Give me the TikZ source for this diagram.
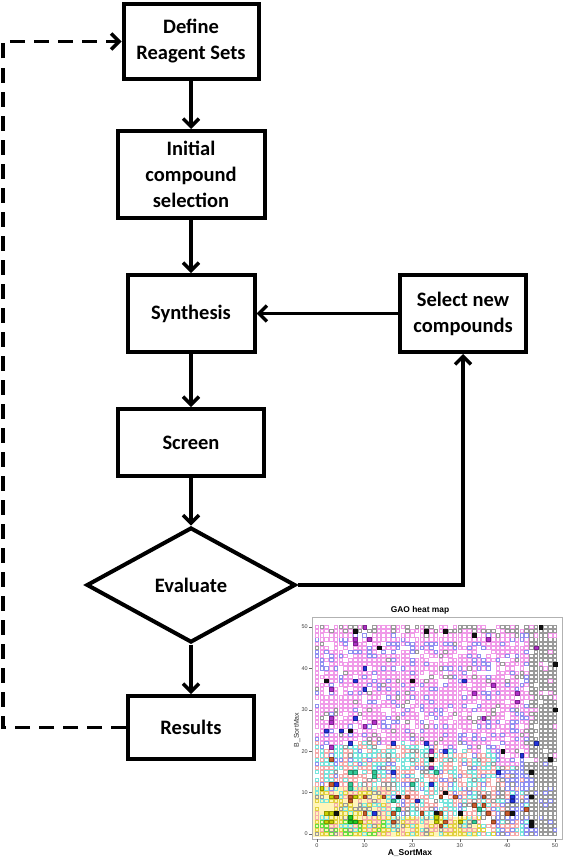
\documentclass[tikz,border=0pt]{standalone}
\usepackage{fontspec}
\newfontfamily\flowfont{Carlito}
\newfontfamily\plotfont{Liberation Sans}
\usetikzlibrary{arrows.meta,shapes.geometric}
\definecolor{hpink}{HTML}{F09AE8}
\definecolor{hlav}{HTML}{9090F0}
\definecolor{hgray}{HTML}{9A9A9A}
\definecolor{hcyan}{HTML}{78E4DC}
\definecolor{hsalmon}{HTML}{F4AAAA}
\definecolor{hyellow}{HTML}{E0D040}
\definecolor{hgreen}{HTML}{66DD44}
\definecolor{hybg}{HTML}{FFF5B8}
\definecolor{fblack}{HTML}{111111}
\definecolor{fblue}{HTML}{2233DD}
\definecolor{fmag}{HTML}{B030C8}
\definecolor{forange}{HTML}{CC5A2A}
\definecolor{fteal}{HTML}{33CC99}
\definecolor{fgreen}{HTML}{22CC22}
\definecolor{fyg}{HTML}{C8D200}
\begin{document}
\begin{tikzpicture}[x=1pt,y=-1pt,
  box/.style={draw=black, line width=4pt, fill=white, align=center, inner sep=0pt,
    font=\flowfont\bfseries\fontsize{20.5}{26}\selectfont},
  conn/.style={line width=3.5pt, -{Straight Barb[length=8pt,width=16pt]}},
  dconn/.style={conn, dash pattern=on 15pt off 9pt},
  ticklab/.style={font=\plotfont\fontsize{5.5}{6}\selectfont, text=black!75, inner sep=0pt},
  filledsq/.style={line width=0.4pt},
]
\useasboundingbox (0,0) rectangle (565,859);

% ---------- flowchart ----------
\node[box, minimum width=135pt, minimum height=75pt] (def) at (191,41.5) {Define\\Reagent Sets};
\node[box, minimum width=147pt, minimum height=87pt] (init) at (191,174.5) {Initial\\compound\\selection};
\node[box, minimum width=127pt, minimum height=77pt] (syn) at (191,313.5) {Synthesis};
\node[box, minimum width=146pt, minimum height=67pt] (scr) at (191,442.5) {Screen};
\node[box, diamond, aspect=1.9, minimum width=209pt, minimum height=115pt] (eval) at (191,585) {Evaluate};
\node[box, minimum width=126pt, minimum height=63pt] (res) at (191,727.5) {Results};
\node[box, minimum width=126pt, minimum height=77pt] (sel) at (463,313.5) {Select new\\compounds};
\coordinate (dl) at (3,727.5);

\draw[conn] (def) -- (init);
\draw[conn] (init) -- (syn);
\draw[conn] (syn) -- (scr);
\draw[conn] (scr) -- (eval);
\draw[conn] (eval) -- (res);
\draw[conn] (sel) -- (syn);
\draw[conn] (eval.east) -| (sel.south);
\draw[dconn] (res.west) -- (dl) |- (def.west);

% ---------- heat map ----------
\fill[hybg] (313,837) rectangle (390,786);
\fill[hybg] (390,837) rectangle (478,817);
\draw[black!30, line width=0.6pt] (312,617) rectangle (562,839);

\pgfmathsetseed{4242}
\foreach \i in {0,...,50}{
  \foreach \j in {0,...,50}{
    \pgfmathsetmacro\bd{(\i<27?22:(\i<38?20:17))+2*rnd-1}
    \pgfmathsetmacro\r{rnd}
    \pgfmathtruncatemacro\up{\j>=\bd}
    \ifnum\up=1
      \pgfmathtruncatemacro\code{\i>=45 ? (\r<0.85?3:(\r<0.95?1:0)) :
        (\j>=49 ? (\r<0.45?3:(\r<0.85?1:0)) :
        (\r<0.64?1:(\r<0.8?2:(\r<0.86?3:0))))}
    \else
      \pgfmathtruncatemacro\code{\i>=45 ? (\r<0.9?3:2) :
        (\i>=38 ? (\r<0.5?2:(\r<0.72?3:(\r<0.88?5:4))) :
        ((\j<11 && \i<15) ? (\r<0.3?6:(\r<0.52?5:(\r<0.64?3:(\r<0.78?4:(\j<4?7:0))))) :
        (\j<5 ? (\r<0.3?6:(\r<0.55?5:(\r<0.75?4:(\r<0.87?3:0)))) :
        (\r<0.42?5:(\r<0.74?4:(\r<0.85?2:(\r<0.93?3:0)))))))}
    \fi
    \ifnum\code>0
      \ifcase\code\or\def\cc{hpink}\or\def\cc{hlav}\or\def\cc{hgray}\or\def\cc{hcyan}\or\def\cc{hsalmon}\or\def\cc{hyellow}\or\def\cc{hgreen}\fi
      \draw[draw=\cc, line width=0.75pt] ({317+4.76*\i-1.8},{834-4.14*\j-1.6}) rectangle +(3.6,3.2);
    \fi
  }
}

% filled squares
\foreach \a/\b/\c in {8/49/fblack,23/49/fblack,27/49/fblack,33/48/fblack,47/50/fblack,13/45/fblack,50/41/fblack,2/37/fblack,20/37/fblack,7/25/fblack,50/30/fblack,39/20/fblack,24/18/fblack,49/18/fblack,45/15/fblack,27/10/fblack,45/9/fblack,4/5/fblack,25/5/fblack,30/5/fblack,41/5/fblack,45/3/fblack,45/2/fblack,17/9/fblack,
  10/40/fblue,8/37/fblue,10/35/fblue,31/37/fblue,8/28/fblue,2/25/fblue,5/25/fblue,7/22/fblue,16/22/fblue,23/22/fblue,27/20/fblue,43/19/fblue,46/22/fblue,16/15/fblue,24/12/fblue,4/12/fblue,38/15/fblue,12/5/fblue,21/8/fblue,41/9/fblue,41/8/fblue,
  10/50/fmag,8/47/fmag,8/46/fmag,11/47/fmag,36/47/fmag,46/45/fmag,3/35/fmag,37/36/fmag,33/34/fmag,42/34/fmag,42/32/fmag,3/28/fmag,3/27/fmag,10/26/fmag,12/27/fmag,35/28/fmag,24/20/fmag,24/16/fmag,3/21/fmag,
  3/18/forange,4/9/forange,7/9/forange,7/8/forange,10/9/forange,14/9/forange,19/9/forange,26/9/forange,29/9/forange,35/9/forange,35/7/forange,10/5/forange,16/5/forange,16/3/forange,22/5/forange,26/5/forange,27/3/forange,26/2/forange,36/5/forange,37/3/forange,44/6/forange,40/5/forange,3/12/forange,33/7/forange,
  7/15/fteal,8/15/fteal,7/12/fteal,7/11/fteal,12/15/fteal,12/14/fteal,16/8/fteal,17/6/fteal,25/15/fteal,34/6/fteal,33/3/fteal,20/12/fteal,
  8/3/fgreen,7/4/fgreen,7/3/fgreen,
  1/11/fyg,3/9/fyg,2/5/fyg,3/5/fyg,2/3/fyg,3/3/fyg,9/3/fyg,25/4/fyg,25/3/fyg,30/3/fyg,8/9/fyg}{
  \fill[\c, draw=\c!70!black, filledsq] ({317+4.76*\a-1.9},{834-4.14*\b-1.8}) rectangle +(3.8,3.6);
}

% axes ticks and labels
\foreach \t in {0,10,...,50}{
  \draw[black!60, line width=0.5pt] (309,{834-4.14*\t}) -- (312,{834-4.14*\t});
  \node[ticklab, anchor=east] (yt\t) at (308,{834-4.14*\t}) {\t};
  \draw[black!60, line width=0.5pt] ({317+4.76*\t},839) -- ({317+4.76*\t},842);
  \node[ticklab, anchor=north] (xt\t) at ({317+4.76*\t},843) {\t};
}
\node[font=\plotfont\bfseries\fontsize{8.4}{10}\selectfont, inner sep=0pt] (title) at (420,610) {GAO heat map};
\node[font=\plotfont\bfseries\fontsize{8.5}{10}\selectfont, inner sep=0pt] (xlab) at (410,853.5) {A\_SortMax};
\node[font=\plotfont\fontsize{7}{8}\selectfont, text=black!80, rotate=90, inner sep=0pt] (ylab) at (297,730) {B\_SortMax};
\end{tikzpicture}
\end{document}
